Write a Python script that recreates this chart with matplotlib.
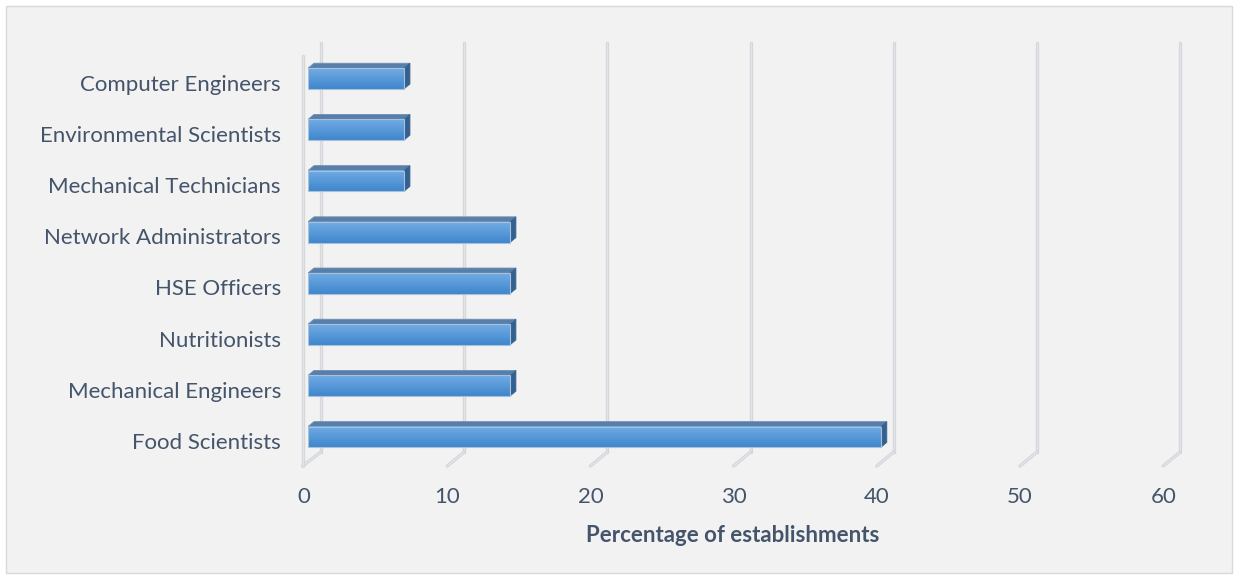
import numpy as np
import matplotlib.pyplot as plt
from matplotlib.patches import Rectangle, Polygon
from matplotlib.colors import LinearSegmentedColormap

categories = [
    "Computer Engineers",
    "Environmental Scientists",
    "Mechanical Technicians",
    "Network Administrators",
    "HSE Officers",
    "Nutritionists",
    "Mechanical Engineers",
    "Food Scientists",
]
values = [6.7, 6.7, 6.7, 14.1, 14.1, 14.1, 14.1, 40.0]
xticks = [0, 10, 20, 30, 40, 50, 60]

W, H = 1238, 579
plt.rcParams["font.family"] = ["Lato", "DejaVu Sans"]
text_color = "#44546A"

fig = plt.figure(figsize=(W / 100, H / 100), dpi=100)
fig.patch.set_facecolor("white")
fig.patches.append(Rectangle((6 / W, 6 / H), 1226 / W, 567 / H, transform=fig.transFigure,
                             facecolor="#F2F2F2", edgecolor="#D9D9D9", lw=1, zorder=-1))

# axes = the plane the bar fronts sit in
left, floor, right, top = 308, 462.6, 1167.2, 53.0
ax = fig.add_axes([left / W, (H - floor) / H, (right - left) / W, (floor - top) / H])
ax.set_xlim(0, 60)
ax.set_ylim(-0.5, 7.5)
ax.set_axis_off()

ux = 60 / (right - left)   # data units per pixel
uy = 8 / (floor - top)

# back wall gridlines and floor lines (pseudo 3d)
grid_edge = "#D2D5DA"
grid_mid = "#E2E4E8"
y_back_floor = -0.5 + (floor - 452) * uy
y_back_top = -0.5 + (floor - 43) * uy
y_front_floor = -0.5 - (466 - floor) * uy


def wall_line(xs, ys):
    ax.plot(xs, ys, color=grid_edge, lw=2.4, solid_capstyle="round", clip_on=False, zorder=1)
    ax.plot(xs, ys, color=grid_mid, lw=1.0, solid_capstyle="round", clip_on=False, zorder=1)


for t in xticks:
    xb = t + 13 * ux
    xf = t - (5.5 if t == 0 else 4) * ux
    wall_line([xb, xb], [y_back_floor, y_back_top])
    wall_line([xf, xb], [y_front_floor, y_back_floor])
# left wall front edge
xw = -5.5 * ux
wall_line([xw, xw], [y_front_floor, -0.5 + (floor - 56) * uy])

# bars
cmap = LinearSegmentedColormap.from_list("bar", ["#3F86CC", "#72ACE5"])
grad = np.linspace(0, 1, 64).reshape(-1, 1)
bh = 0.405
dx, dy = 6 * ux, 5 * uy
ypos = np.arange(len(categories))[::-1]
for y, v in zip(ypos, values):
    y0, y1 = y - bh / 2, y + bh / 2
    ax.add_patch(Polygon([(0, y1), (v, y1), (v + dx, y1 + dy), (dx, y1 + dy)],
                         closed=True, facecolor="#587FAA", edgecolor="#6F8FB5",
                         lw=0.6, zorder=3))
    ax.add_patch(Polygon([(v, y0), (v, y1), (v + dx, y1 + dy), (v + dx, y0 + dy)],
                         closed=True, facecolor="#34608F", edgecolor="#3A6694",
                         lw=0.6, zorder=3))
    ax.imshow(grad, cmap=cmap, origin="lower", aspect="auto",
              extent=[0, v, y0, y1], zorder=4)
    ax.add_patch(Rectangle((0, y0), v, bh, facecolor="none", edgecolor="#A6C0DD",
                           lw=0.8, zorder=5))
ax.set_xlim(0, 60)
ax.set_ylim(-0.5, 7.5)

# category labels
for y, name in zip(ypos, categories):
    ax.text(-27 * ux, y - 6 * uy, name, ha="right", va="center",
            fontsize=16, color=text_color, clip_on=False)

# x tick labels
for t in xticks:
    ax.text(t - 4 * ux, -0.5 - (497 - floor) * uy, str(t), ha="center", va="center",
            fontsize=16, color=text_color, clip_on=False)

ax.text((733 - left) * ux, -0.5 - (536 - floor) * uy, "Percentage of establishments",
        ha="center", va="center", fontsize=16, fontweight="bold", color=text_color,
        clip_on=False)

fig.savefig("out.png", dpi=100)
